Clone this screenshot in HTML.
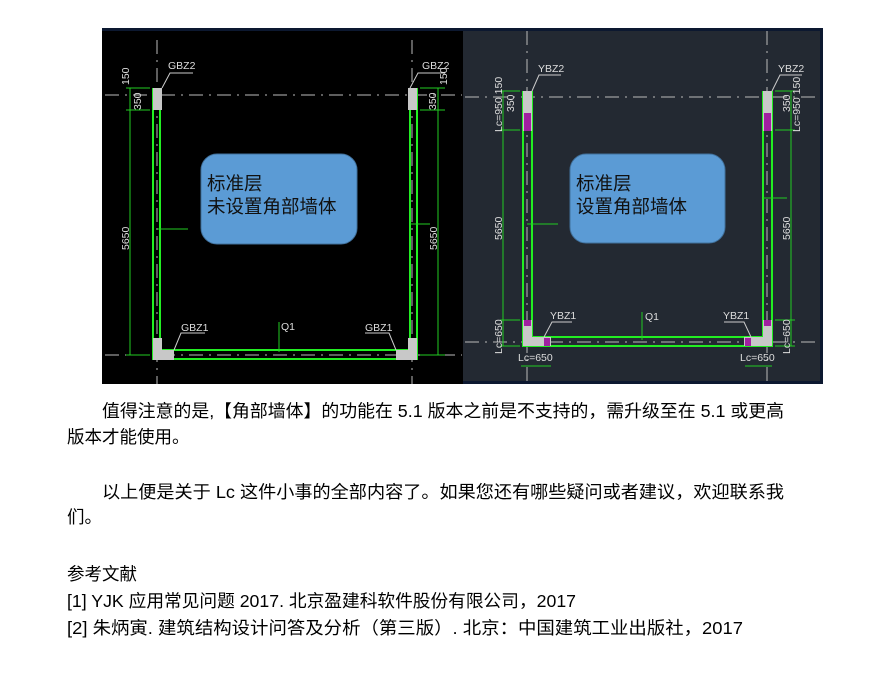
<!DOCTYPE html>
<html><head><meta charset="utf-8"><style>
html,body{margin:0;padding:0;background:#fff;}
svg{display:block}
.t{font-family:"Liberation Sans","Noto Sans CJK SC",sans-serif;font-size:17.5px;fill:#000}
.d{font-family:"Liberation Sans",sans-serif;font-size:10.5px;fill:#ddd}
.bt{font-family:"Liberation Sans","Noto Sans CJK SC",sans-serif;font-size:18.5px;fill:#111}
</style></head><body>
<svg width="873" height="674" viewBox="0 0 873 674" xmlns="http://www.w3.org/2000/svg">
<rect width="873" height="674" fill="#fff"/>
<!-- left panel -->
<rect x="102" y="28" width="362" height="356" fill="#000"/>
<rect x="102" y="28" width="362" height="3" fill="#0c1830"/>
<g stroke="#bbb" stroke-width="1" stroke-dasharray="14,6,2,6">
<line x1="157" y1="40" x2="157" y2="384"/><line x1="412" y1="40" x2="412" y2="384"/>
<line x1="105" y1="95" x2="462" y2="95"/><line x1="105" y1="355" x2="462" y2="355"/>
</g>
<g fill="none" stroke="#22ee22" stroke-width="2">
<path d="M153 88 V359 H417 V88"/><path d="M160 88 V350 H410 V88"/>
</g>
<g stroke="#22cc22" stroke-width="1" fill="none">
<line x1="130" y1="88" x2="130" y2="355"/><line x1="438" y1="88" x2="438" y2="355"/>
<line x1="126" y1="88" x2="150" y2="88"/><line x1="126" y1="110" x2="150" y2="110"/>
<line x1="126" y1="355" x2="150" y2="355"/><line x1="420" y1="88" x2="445" y2="88"/>
<line x1="420" y1="110" x2="445" y2="110"/><line x1="420" y1="355" x2="445" y2="355"/>
<line x1="157" y1="229" x2="188" y2="229"/><line x1="410" y1="224" x2="430" y2="224"/>
<line x1="279" y1="322" x2="279" y2="352"/>
</g>
<g fill="#c8c8c8">
<rect x="153" y="88" width="9" height="22"/><rect x="408" y="88" width="9" height="22"/>
<path d="M153 338 H162 V350 H174 V360 H153 Z"/><path d="M417 338 H408 V350 H396 V360 H417 Z"/>
</g>
<g stroke="#ccc" fill="none"><path d="M162 88 L170 73 H193"/><path d="M410 88 L418 73 H445"/>
<path d="M174 350 L181 333 H205"/><path d="M396 350 L389 333 H365"/></g>
<text class="d" x="168" y="69">GBZ2</text><text class="d" x="422" y="69">GBZ2</text>
<text class="d" x="181" y="331">GBZ1</text><text class="d" x="365" y="331">GBZ1</text>
<text class="d" x="281" y="330" fill="#2e2">Q1</text>
<g class="d"><text transform="translate(129,250) rotate(-90)">5650</text>
<text transform="translate(129,85) rotate(-90)">150</text><text transform="translate(141,110) rotate(-90)">350</text>
<text transform="translate(437,250) rotate(-90)">5650</text><text transform="translate(447,85) rotate(-90)">150</text>
<text transform="translate(436,110) rotate(-90)">350</text></g>
<rect x="201" y="154" width="156" height="90" rx="16" fill="#5b9bd5" stroke="#41719c"/>
<text class="bt" x="207" y="190">标准层</text><text class="bt" x="207" y="213">未设置角部墙体</text>
<!-- right panel -->
<rect x="463" y="28" width="360" height="356" fill="#232932"/>
<rect x="463" y="28" width="360" height="3" fill="#0c1830"/>
<rect x="820" y="28" width="3" height="356" fill="#0c1830"/>
<rect x="463" y="381" width="360" height="3" fill="#0c1830"/>
<g stroke="#bbb" stroke-width="1" stroke-dasharray="14,6,2,6">
<line x1="527" y1="31" x2="527" y2="381"/><line x1="767" y1="31" x2="767" y2="381"/>
<line x1="465" y1="97" x2="820" y2="97"/><line x1="465" y1="342" x2="820" y2="342"/>
</g>
<g fill="none" stroke="#22ee22" stroke-width="2">
<path d="M523 91 V346 H772 V91"/><path d="M532 91 V337 H763 V91"/>
</g>
<g stroke="#22cc22" stroke-width="1" fill="none">
<line x1="503" y1="91" x2="503" y2="346"/><line x1="791" y1="91" x2="791" y2="346"/>
<line x1="500" y1="91" x2="520" y2="91"/><line x1="500" y1="130" x2="520" y2="130"/>
<line x1="500" y1="320" x2="520" y2="320"/><line x1="500" y1="346" x2="520" y2="346"/>
<line x1="775" y1="91" x2="795" y2="91"/><line x1="775" y1="130" x2="795" y2="130"/>
<line x1="775" y1="320" x2="795" y2="320"/><line x1="775" y1="346" x2="795" y2="346"/>
<line x1="521" y1="366" x2="551" y2="366"/><line x1="745" y1="366" x2="772" y2="366"/>
<line x1="527" y1="224" x2="558" y2="224"/><line x1="763" y1="198" x2="787" y2="198"/>
<line x1="642" y1="312" x2="642" y2="340"/>
</g>
<g fill="#c8c8c8">
<rect x="523" y="91" width="9" height="40"/><rect x="763" y="91" width="9" height="40"/>
<path d="M523 320 H532 V337 H551 V346 H523 Z"/><path d="M772 320 H763 V337 H744 V346 H772 Z"/>
</g>
<g fill="#a020a0"><rect x="524" y="113" width="7" height="18"/><rect x="764" y="113" width="7" height="18"/>
<rect x="524" y="320" width="7" height="6"/><rect x="764" y="320" width="7" height="6"/>
<rect x="544" y="338" width="6" height="8"/><rect x="745" y="338" width="6" height="8"/></g>
<g stroke="#ccc" fill="none"><path d="M532 91 L539 75 H561"/><path d="M772 91 L780 75 H802"/>
<path d="M544 337 L552 322 H572"/><path d="M751 337 L744 322 H724"/></g>
<text class="d" x="538" y="72">YBZ2</text><text class="d" x="778" y="72">YBZ2</text>
<text class="d" x="550" y="319">YBZ1</text><text class="d" x="723" y="319">YBZ1</text>
<text class="d" x="645" y="320" fill="#2e2">Q1</text>
<text class="d" x="518" y="361">Lc=650</text><text class="d" x="740" y="361">Lc=650</text>
<g class="d"><text transform="translate(502,240) rotate(-90)">5650</text>
<text transform="translate(502,132) rotate(-90)">Lc=950 150</text><text transform="translate(514,112) rotate(-90)">350</text>
<text transform="translate(502,354) rotate(-90)">Lc=650</text>
<text transform="translate(790,240) rotate(-90)">5650</text><text transform="translate(800,132) rotate(-90)">Lc=950 150</text>
<text transform="translate(790,112) rotate(-90)">350</text><text transform="translate(790,354) rotate(-90)">Lc=650</text></g>
<rect x="570" y="154" width="155" height="89" rx="16" fill="#5b9bd5" stroke="#41719c"/>
<text class="bt" x="576" y="190">标准层</text><text class="bt" x="576" y="213">设置角部墙体</text>
<!-- text -->
<text class="t" x="102" y="417" textLength="682" lengthAdjust="spacingAndGlyphs">值得注意的是,【角部墙体】的功能在 5.1 版本之前是不支持的，需升级至在 5.1 或更高</text>
<text class="t" x="67" y="443">版本才能使用。</text>
<text class="t" x="102" y="498" textLength="682" lengthAdjust="spacingAndGlyphs">以上便是关于 Lc 这件小事的全部内容了。如果您还有哪些疑问或者建议，欢迎联系我</text>
<text class="t" x="67" y="523">们。</text>
<text class="t" x="67" y="580">参考文献</text>
<text class="t" x="67" y="607" textLength="509" lengthAdjust="spacingAndGlyphs">[1] YJK 应用常见问题 2017. 北京盈建科软件股份有限公司，2017</text>
<text class="t" x="67" y="634" textLength="676" lengthAdjust="spacingAndGlyphs">[2]  朱炳寅. 建筑结构设计问答及分析（第三版）. 北京：中国建筑工业出版社，2017</text>
</svg>
</body></html>
